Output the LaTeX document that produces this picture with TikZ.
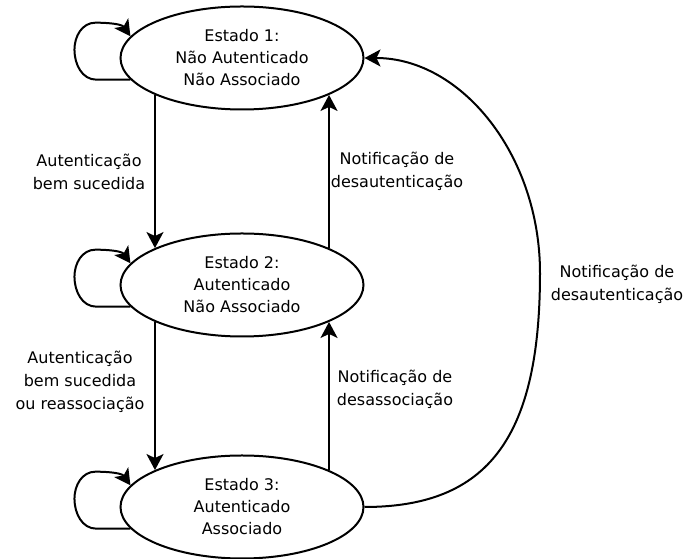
\documentclass[tikz,border=0pt]{standalone}
\usepackage{fontspec}
\setmainfont{DejaVu Sans}
\usetikzlibrary{arrows.meta,shapes.geometric}
\begin{document}
\begin{tikzpicture}[x=1pt,y=1pt,
  state/.style={ellipse,draw,line width=2pt,minimum width=243pt,minimum height=103pt,
    inner sep=0pt,align=center,font=\fontsize{16}{22}\selectfont},
  tip/.style={-{Stealth[length=16pt,width=17pt,inset=4pt]}},
  edge/.style={line width=2pt,tip},
  lbl/.style={align=center,inner sep=0pt,font=\fontsize{16}{23}\selectfont}]
\useasboundingbox (0,0) rectangle (686,559);

% states
\node[state] (e1) at (242,501) {Estado 1:\\Não Autenticado\\Não Associado};
\node[state] (e2) at (242,274) {Estado 2:\\Autenticado\\Não Associado};
\node[state] (e3) at (242,52)  {Estado 3:\\Autenticado\\Associado};

% self loops on the left of each state
\foreach \s in {e1,e2,e3}{
  \draw[edge] (\s.191.3) -- ++(-34,0)
    to[out=180,in=-90] ++(-22,30)
    to[out=90,in=180] ++(21,27)
    to[out=0,in=125] (\s.169.3);
}

% vertical transitions
\draw[edge] (e1.-157.3) -- (e2.157.3);
\draw[edge] (e2.23.1) -- (e1.-23.1);
\draw[edge] (e2.-157.3) -- (e3.157.3);
\draw[edge] (e3.23.1) -- (e2.-23.1);

% long return arc from state 3 to state 1
\coordinate (far) at (540,286);
\draw[edge] (e3.east) .. controls +(124,0) and +(0,-164) .. (far)
  .. controls +(0,118) and +(97,0) .. (e1.east);

% labels
\begin{scope}
  \clip (0,0) rectangle (148,559);
  \node[lbl] (la) at (89,387.5) {Autenticação\\bem sucedida};
  \node[lbl] (lc) at (80,177.5) {Autenticação\\bem sucedida\\ou reassociação};
\end{scope}
\node[lbl] (lb) at (397,387.5) {Notificação de\\desautenticação};
\node[lbl] (ld) at (395,170) {Notificação de\\desassociação};
\node[lbl] (le) at (617,274.5) {Notificação de\\desautenticação};
\end{tikzpicture}
\end{document}
